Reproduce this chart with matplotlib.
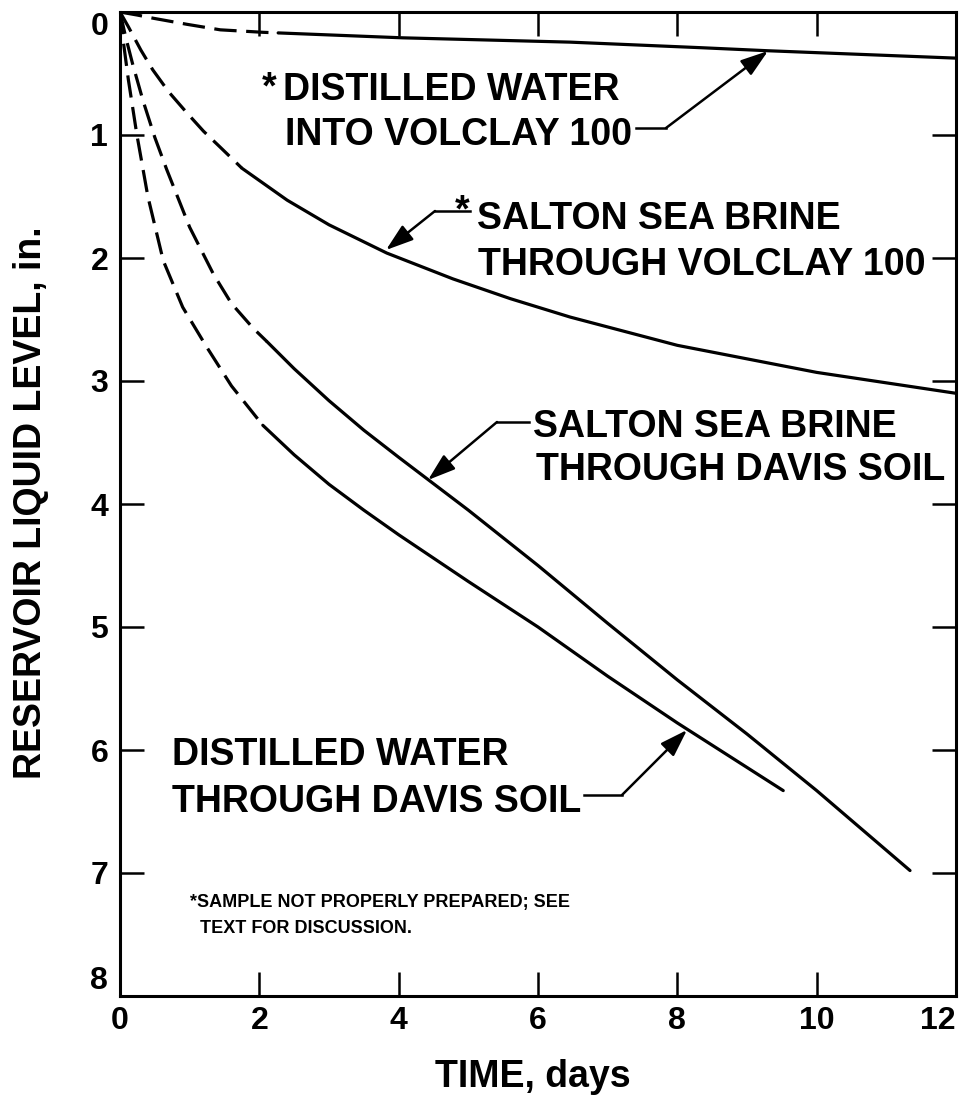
import matplotlib
matplotlib.use("Agg")
import matplotlib.pyplot as plt

plt.rcParams['font.family'] = ['Liberation Sans', 'DejaVu Sans']
plt.rcParams['font.weight'] = 'bold'

# ---------------- data (time in days, reservoir level in inches) ----------------
dw_volclay_dash_t = [0.0, 0.25, 0.47, 0.96, 1.44, 2.05, 2.27]
dw_volclay_dash_L = [0.0, 0.025, 0.05, 0.10, 0.145, 0.165, 0.17]
dw_volclay_t = [2.27, 4.06, 6.46, 8.33, 9.3, 12.0]
dw_volclay_L = [0.17, 0.21, 0.245, 0.29, 0.315, 0.375]

ss_volclay_dash_t = [0.0, 0.12, 0.3, 0.47, 0.7, 0.96, 1.2, 1.44, 1.75]
ss_volclay_dash_L = [0.0, 0.12, 0.31, 0.47, 0.65, 0.82, 0.97, 1.10, 1.27]
ss_volclay_t = [1.75, 2.4, 3.0, 3.83, 4.78, 5.6, 6.46, 8.0, 10.0, 12.0]
ss_volclay_L = [1.27, 1.53, 1.73, 1.96, 2.17, 2.33, 2.48, 2.71, 2.93, 3.10]

ss_davis_dash_t = [0.0, 0.08, 0.18, 0.33, 0.5, 0.67, 1.0, 1.34, 1.6, 1.91, 2.11]
ss_davis_dash_L = [0.0, 0.20, 0.42, 0.72, 1.02, 1.28, 1.75, 2.13, 2.37, 2.57, 2.68]
ss_davis_t = [2.11, 2.5, 3.0, 3.5, 4.0, 5.0, 6.0, 7.0, 8.0, 9.0, 10.0, 11.34]
ss_davis_L = [2.68, 2.90, 3.16, 3.40, 3.62, 4.05, 4.50, 4.97, 5.43, 5.87, 6.33, 6.98]

dw_davis_dash_t = [0.0, 0.05, 0.12, 0.24, 0.4, 0.62, 0.9, 1.24, 1.6, 2.05]
dw_davis_dash_L = [0.0, 0.25, 0.55, 0.99, 1.50, 2.02, 2.40, 2.72, 3.04, 3.36]
dw_davis_t = [2.05, 2.5, 3.0, 3.5, 4.0, 5.0, 6.0, 7.0, 8.0, 9.52]
dw_davis_L = [3.36, 3.60, 3.84, 4.05, 4.25, 4.63, 5.00, 5.40, 5.78, 6.33]

x_ticks = [0, 2, 4, 6, 8, 10, 12]
y_ticks = [0, 1, 2, 3, 4, 5, 6, 7, 8]

# ---------------- figure ----------------
W, H = 962, 1102
fig = plt.figure(figsize=(W / 100, H / 100), dpi=100)
AX_L, AX_R, AX_T, AX_B = 120, 956, 12, 996
ax = fig.add_axes([AX_L / W, 1 - AX_B / H, (AX_R - AX_L) / W, (AX_B - AX_T) / H])
ax.set_xlim(0, 12)
ax.set_ylim(8, 0)


def px(x, y):
    """pixel (from top-left of figure) -> data coords"""
    return ((x - AX_L) / (AX_R - AX_L) * 12.0, (y - AX_T) / (AX_B - AX_T) * 8.0)


lw = 2.3
dash = (7, 3)
for tt, LL in [(dw_volclay_dash_t, dw_volclay_dash_L), (ss_volclay_dash_t, ss_volclay_dash_L),
               (ss_davis_dash_t, ss_davis_dash_L), (dw_davis_dash_t, dw_davis_dash_L)]:
    ax.plot(tt, LL, color='black', lw=lw, dashes=dash, solid_capstyle='butt',
            solid_joinstyle='round')
for tt, LL in [(dw_volclay_t, dw_volclay_L), (ss_volclay_t, ss_volclay_L),
               (ss_davis_t, ss_davis_L), (dw_davis_t, dw_davis_L)]:
    ax.plot(tt, LL, color='black', lw=lw, solid_capstyle='round', solid_joinstyle='round')

# spines / ticks
for s in ax.spines.values():
    s.set_linewidth(2.2)
ax.set_xticks(x_ticks)
ax.set_yticks(y_ticks)
ax.tick_params(direction='in', length=17, width=1.8, top=True, right=True,
               labelsize=23)
ax.tick_params(axis='y', pad=8.5)
ax.tick_params(axis='x', pad=7)
for lab in ax.get_xticklabels() + ax.get_yticklabels():
    lab.set_fontweight('bold')
ax.get_xticklabels()[-1].set_horizontalalignment('right')
ax.get_yticklabels()[0].set_verticalalignment('top')
ax.get_yticklabels()[-1].set_verticalalignment('bottom')

FS = 27

# axis labels
fig.text(533 / W, 1 - 1087 / H, 'TIME, days', ha='center', va='baseline',
         fontsize=FS, fontweight='bold')
fig.text(31 / W, 1 - 503 / H, 'RESERVOIR LIQUID LEVEL, in.', ha='center', va='center',
         rotation=90, fontsize=FS, fontweight='bold')


def label(x, y, s, fs=FS):
    ax.text(*px(x, y), s, ha='left', va='baseline', fontsize=fs, fontweight='bold')


def arrow(tail, tip):
    ax.annotate('', xy=px(*tip), xytext=px(*tail),
                arrowprops=dict(arrowstyle='-|>,head_length=1.2,head_width=0.4',
                                color='black', lw=1.8, mutation_scale=14,
                                shrinkA=0, shrinkB=0))


def lead(x0, x1, y):
    a, b = px(x0, y), px(x1, y)
    ax.plot([a[0], b[0]], [a[1], b[1]], color='black', lw=1.8)


# 1: distilled water into volclay
label(262, 98, '*')
label(283, 100, 'DISTILLED WATER')
label(285, 145, 'INTO VOLCLAY 100')
lead(636, 666, 128)
arrow((666, 128), (768, 51))

# 2: salton sea brine through volclay
label(455, 221, '*')
label(477, 229, 'SALTON SEA BRINE')
label(478, 275, 'THROUGH VOLCLAY 100')
lead(435, 470, 211)
arrow((435, 211), (386, 250))

# 3: salton sea brine through davis soil
label(533, 437, 'SALTON SEA BRINE')
label(536, 480, 'THROUGH DAVIS SOIL')
lead(497, 529, 422)
arrow((497, 422), (428, 480))

# 4: distilled water through davis soil
label(172, 765, 'DISTILLED WATER')
label(172, 812, 'THROUGH DAVIS SOIL')
lead(584, 622, 795)
arrow((622, 795), (687, 730))

# footnote
label(190, 907, '*SAMPLE NOT PROPERLY PREPARED; SEE', fs=13)
label(200, 933, 'TEXT FOR DISCUSSION.', fs=13)

fig.savefig('out.png', dpi=100)
